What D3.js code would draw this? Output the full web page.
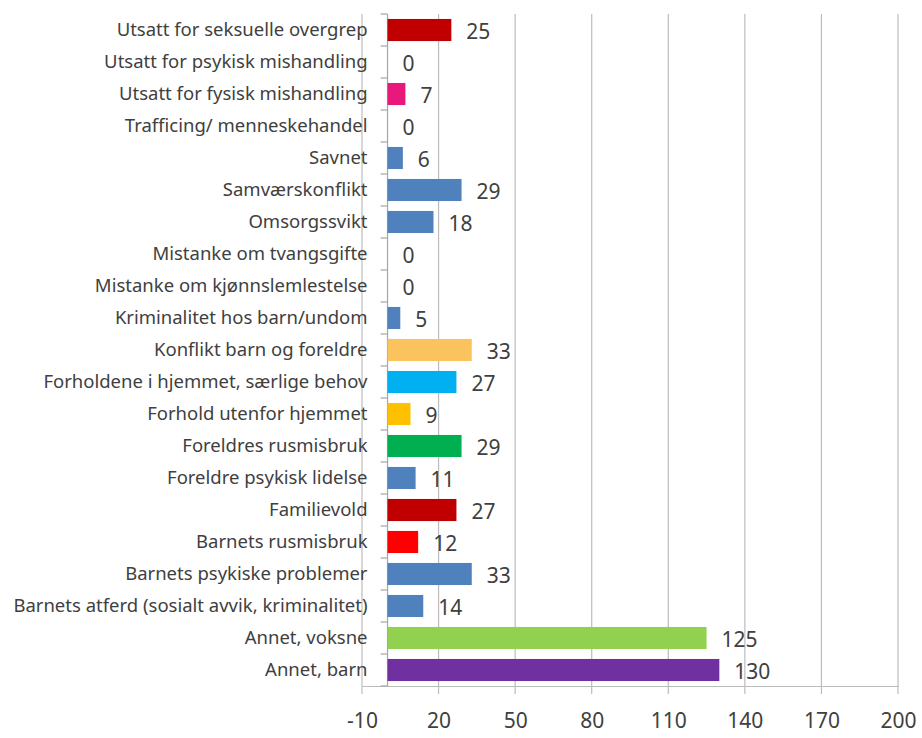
<!DOCTYPE html>
<html>
<head>
<meta charset="utf-8">
<script src="https://cdn.jsdelivr.net/npm/d3@7"></script>
<style>
  body { margin: 0; background: #fff; }
  svg text { font-family: "Noto Sans", sans-serif; fill: #404040; }
</style>
</head>
<body>
<div id="chart"></div>
<script>
const categories = [
  'Utsatt for seksuelle overgrep',
  'Utsatt for psykisk mishandling',
  'Utsatt for fysisk mishandling',
  'Trafficing/ menneskehandel',
  'Savnet',
  'Samværskonflikt',
  'Omsorgssvikt',
  'Mistanke om tvangsgifte',
  'Mistanke om kjønnslemlestelse',
  'Kriminalitet hos barn/undom',
  'Konflikt barn og foreldre',
  'Forholdene i hjemmet, særlige behov',
  'Forhold utenfor hjemmet',
  'Foreldres rusmisbruk',
  'Foreldre psykisk lidelse',
  'Familievold',
  'Barnets rusmisbruk',
  'Barnets psykiske problemer',
  'Barnets atferd (sosialt avvik, kriminalitet)',
  'Annet, voksne',
  'Annet, barn'
];
const values = [25, 0, 7, 0, 6, 29, 18, 0, 0, 5, 33, 27, 9, 29, 11, 27, 12, 33, 14, 125, 130];
const barColors = [
  '#C00000', '#4F81BD', '#E8197A', '#4F81BD', '#4F81BD', '#4F81BD', '#4F81BD',
  '#4F81BD', '#4F81BD', '#4F81BD', '#FAC35E', '#00B0F0', '#FFC000', '#00B050',
  '#4F81BD', '#C00000', '#FF0000', '#4F81BD', '#4F81BD', '#92D050', '#7030A0'
];
const xTicks = [-10, 20, 50, 80, 110, 140, 170, 200];

const width = 922, height = 738;
const margin = {top: 14, right: 24, bottom: 52, left: 362};

const svg = d3.select('#chart').append('svg')
  .attr('width', width)
  .attr('height', height);

const x = d3.scaleLinear()
  .domain([-10, 200])
  .range([margin.left, width - margin.right]);

const y = d3.scaleBand()
  .domain(categories)
  .range([margin.top, height - margin.bottom])
  .paddingInner(0.31)
  .paddingOuter(0.155);

const bottom = height - margin.bottom;

// vertical gridlines
svg.append('g')
  .attr('class', 'grid')
  .selectAll('line')
  .data(xTicks)
  .enter()
  .append('line')
  .attr('x1', d => x(d)).attr('x2', d => x(d))
  .attr('y1', margin.top).attr('y2', bottom + 8)
  .attr('stroke', '#BCBCBC')
  .attr('stroke-width', 1.2);

// bottom axis
const xAxis = svg.append('g')
  .attr('class', 'x axis')
  .attr('transform', `translate(0,${bottom})`)
  .call(d3.axisBottom(x).tickValues(xTicks).tickSize(0).tickPadding(27)
    .tickFormat(d => String(d)));
xAxis.select('.domain').attr('stroke', '#BCBCBC').attr('stroke-width', 1.2);
xAxis.selectAll('.tick text')
  .style('font-size', '21px')
  .style('font-family', '"Noto Sans", sans-serif')
  .attr('fill', '#404040');

// category axis at zero
const gap = (y.step() - y.bandwidth()) / 2;
const bounds = categories.map(c => y(c) - gap).concat([bottom]);
svg.append('line')
  .attr('x1', x(0)).attr('x2', x(0))
  .attr('y1', margin.top).attr('y2', bottom)
  .attr('stroke', '#A6A6A6')
  .attr('stroke-width', 1.2);
svg.append('g')
  .selectAll('line')
  .data(bounds)
  .enter()
  .append('line')
  .attr('x1', x(0) - 7).attr('x2', x(0))
  .attr('y1', d => d).attr('y2', d => d)
  .attr('stroke', '#A6A6A6')
  .attr('stroke-width', 1.2);

// category labels
svg.append('g')
  .selectAll('text')
  .data(categories)
  .enter()
  .append('text')
  .attr('x', x(0) - 20)
  .attr('y', d => y(d) + y.bandwidth() / 2)
  .attr('dy', '0.35em')
  .attr('text-anchor', 'end')
  .style('font-size', '18.5px')
  .text(d => d);

// bars
svg.append('g')
  .selectAll('rect')
  .data(values)
  .enter()
  .append('rect')
  .attr('x', x(0))
  .attr('y', (v, i) => y(categories[i]))
  .attr('width', v => x(v) - x(0))
  .attr('height', y.bandwidth())
  .attr('fill', (v, i) => barColors[i]);

// value labels
svg.append('g')
  .selectAll('text')
  .data(values)
  .enter()
  .append('text')
  .attr('x', v => x(v) + 15)
  .attr('y', (v, i) => y(categories[i]) + y.bandwidth() / 2 + 2)
  .attr('dy', '0.35em')
  .style('font-size', '21px')
  .text(v => v);
</script>
</body>
</html>
